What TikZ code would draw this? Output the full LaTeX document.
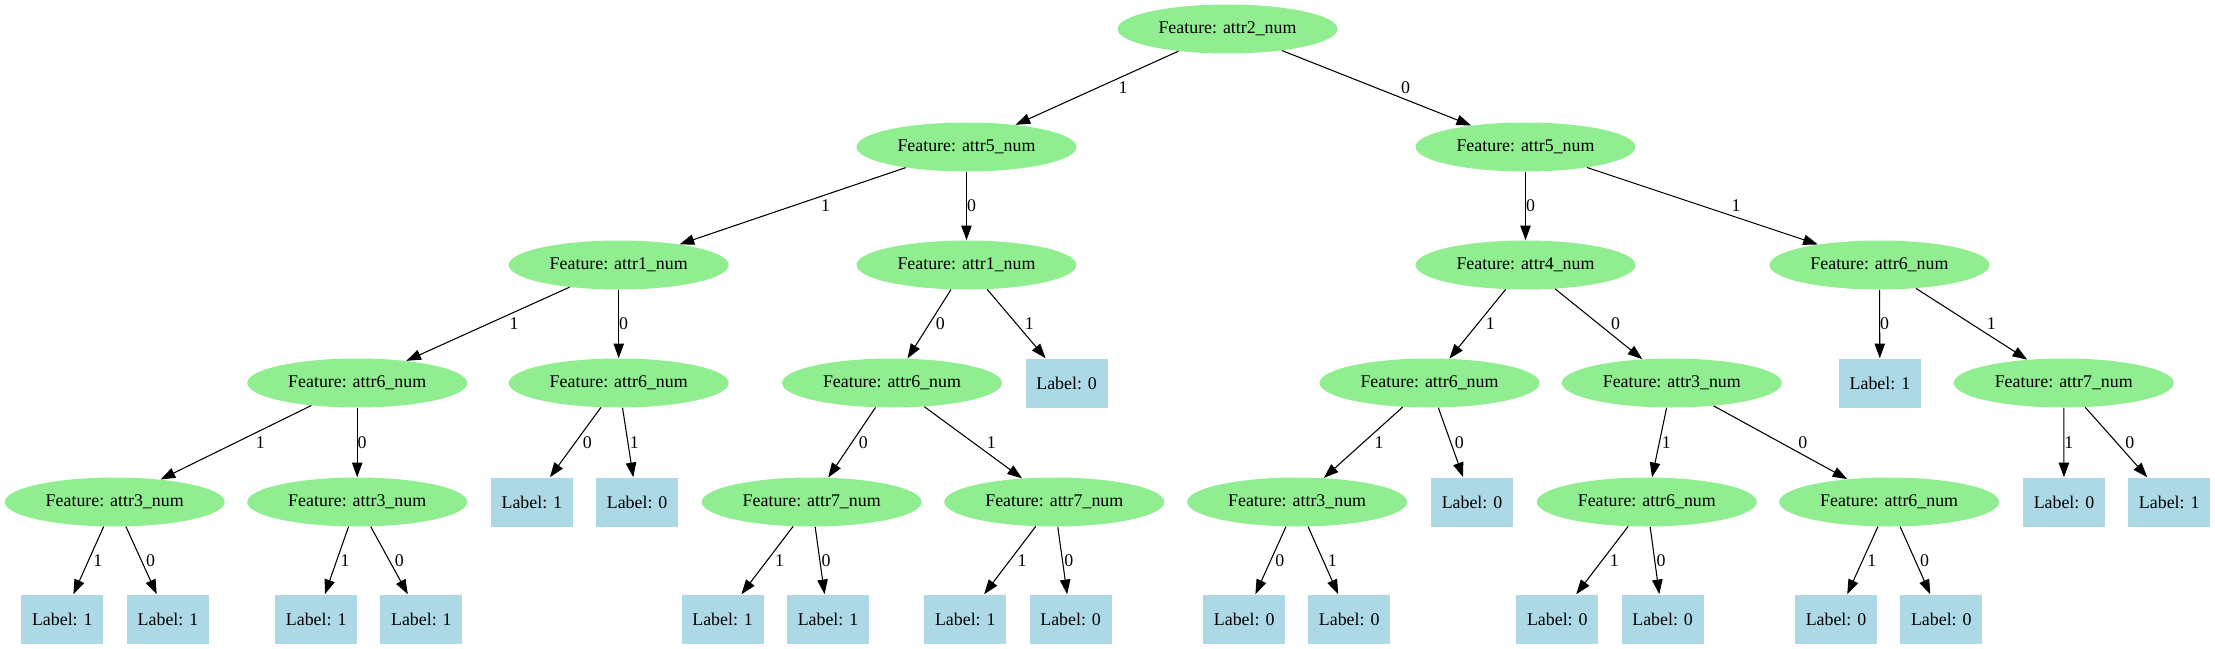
\documentclass[tikz,border=0pt]{standalone}
\usepackage{fontspec}
\setmainfont{Liberation Serif}
\usetikzlibrary{arrows.meta,shapes.geometric}
\definecolor{featgreen}{HTML}{90EE90}
\definecolor{leafblue}{HTML}{ADD8E6}
\tikzset{
  feat/.style={ellipse,fill=featgreen,minimum width=165pt,minimum height=36.75pt,inner sep=0pt},
  leaf/.style={rectangle,fill=leafblue,minimum width=61.5pt,minimum height=36.75pt,inner sep=0pt},
  lbl/.style={midway,anchor=west,inner sep=0pt}
}
\begin{document}
\begin{tikzpicture}[x=0.75pt,y=-0.75pt,font=\fontsize{13.4}{16}\selectfont]
  \useasboundingbox (0,0) rectangle (2215,649);
  \begin{scope}[every node/.style=feat]
    \node (r) at (1227.5,29) {Feature: attr2\_num};
    \node (p1) at (966.5,147) {Feature: attr5\_num};
    \node (p2) at (1525.5,147) {Feature: attr5\_num};
    \node (q1) at (618.7,265) {Feature: attr1\_num};
    \node (q2) at (966.5,265) {Feature: attr1\_num};
    \node (q3) at (1525.5,265) {Feature: attr4\_num};
    \node (q4) at (1879.4,265) {Feature: attr6\_num};
    \node (s1) at (357.2,383) {Feature: attr6\_num};
    \node (s2) at (618.7,383) {Feature: attr6\_num};
    \node (s3) at (892,383) {Feature: attr6\_num};
    \node (s5) at (1429.5,383) {Feature: attr6\_num};
    \node (s6) at (1671.8,383) {Feature: attr3\_num};
    \node (s8) at (2063.7,383) {Feature: attr7\_num};
    \node (t1) at (114.7,502) {Feature: attr3\_num};
    \node (t2) at (357.2,502) {Feature: attr3\_num};
    \node (t5) at (811.7,502) {Feature: attr7\_num};
    \node (t6) at (1054.3,502) {Feature: attr7\_num};
    \node (t7) at (1297.1,502) {Feature: attr3\_num};
    \node (t9) at (1646.8,502) {Feature: attr6\_num};
    \node (t10) at (1889.1,502) {Feature: attr6\_num};
  \end{scope}
  \begin{scope}[every node/.style=leaf]
    \node (s4) at (1066.6,383) {Label: 0};
    \node (s7) at (1879.9,383) {Label: 1};
    \node (t3) at (531.9,502) {Label: 1};
    \node (t4) at (637.1,502) {Label: 0};
    \node (t8) at (1472,502) {Label: 0};
    \node (t11) at (2064,502) {Label: 0};
    \node (t12) at (2169.2,502) {Label: 1};
    \node (u1) at (62.3,619) {Label: 1};
    \node (u2) at (168,619) {Label: 1};
    \node (u3) at (316.2,619) {Label: 1};
    \node (u4) at (421.4,619) {Label: 1};
    \node (u5) at (722.6,619) {Label: 1};
    \node (u6) at (828,619) {Label: 1};
    \node (u7) at (965.3,619) {Label: 1};
    \node (u8) at (1070.6,619) {Label: 0};
    \node (u9) at (1244.2,619) {Label: 0};
    \node (u10) at (1349.2,619) {Label: 0};
    \node (u11) at (1557.3,619) {Label: 0};
    \node (u12) at (1662.6,619) {Label: 0};
    \node (u13) at (1836,619) {Label: 0};
    \node (u14) at (1941.3,619) {Label: 0};
  \end{scope}
  \begin{scope}[every edge/.style={draw=black,line width=0.8pt,-{Triangle[length=11pt,width=7.8pt]}}]
    \path (r) edge node[lbl,xshift=15.8pt] {1} (p1);
    \path (r) edge node[lbl,xshift=18pt] {0} (p2);
    \path (p1) edge node[lbl,xshift=21pt] {1} (q1);
    \path (p1) edge node[lbl] {0} (q2);
    \path (p2) edge node[lbl] {0} (q3);
    \path (p2) edge node[lbl,xshift=21.4pt] {1} (q4);
    \path (q1) edge node[lbl,xshift=15.8pt] {1} (s1);
    \path (q1) edge node[lbl] {0} (s2);
    \path (q2) edge node[lbl,xshift=4.5pt] {0} (s3);
    \path (q2) edge node[lbl,xshift=6pt] {1} (s4);
    \path (q3) edge node[lbl,xshift=5.8pt] {1} (s5);
    \path (q3) edge node[lbl,xshift=8.9pt] {0} (s6);
    \path (q4) edge node[lbl] {0} (s7);
    \path (q4) edge node[lbl,xshift=11.1pt] {1} (s8);
    \path (s1) edge node[lbl,xshift=14.6pt] {1} (t1);
    \path (s1) edge node[lbl] {0} (t2);
    \path (s2) edge node[lbl,xshift=5.2pt] {0} (t3);
    \path (s2) edge node[lbl,xshift=1.1pt] {1} (t4);
    \path (s3) edge node[lbl,xshift=4.9pt] {0} (t5);
    \path (s3) edge node[lbl,xshift=9.8pt] {1} (t6);
    \path (s5) edge node[lbl,xshift=8pt] {1} (t7);
    \path (s5) edge node[lbl,xshift=2.6pt] {0} (t8);
    \path (s6) edge node[lbl,xshift=1.5pt] {1} (t9);
    \path (s6) edge node[lbl,xshift=13.1pt] {0} (t10);
    \path (s8) edge node[lbl] {1} (t11);
    \path (s8) edge node[lbl,xshift=6.4pt] {0} (t12);
    \path (t1) edge node[lbl,xshift=3.2pt] {1} (u1);
    \path (t1) edge node[lbl,xshift=3.2pt] {0} (u2);
    \path (t2) edge node[lbl,xshift=2.5pt] {1} (u3);
    \path (t2) edge node[lbl,xshift=3.9pt] {0} (u4);
    \path (t5) edge node[lbl,xshift=5.4pt] {1} (u5);
    \path (t5) edge node[lbl,xshift=1pt] {0} (u6);
    \path (t6) edge node[lbl,xshift=5.4pt] {1} (u7);
    \path (t6) edge node[lbl,xshift=1pt] {0} (u8);
    \path (t7) edge node[lbl,xshift=3.2pt] {0} (u9);
    \path (t7) edge node[lbl,xshift=3.2pt] {1} (u10);
    \path (t9) edge node[lbl,xshift=5.4pt] {1} (u11);
    \path (t9) edge node[lbl,xshift=1pt] {0} (u12);
    \path (t10) edge node[lbl,xshift=3.2pt] {1} (u13);
    \path (t10) edge node[lbl,xshift=3.2pt] {0} (u14);
  \end{scope}
\end{tikzpicture}
\end{document}
